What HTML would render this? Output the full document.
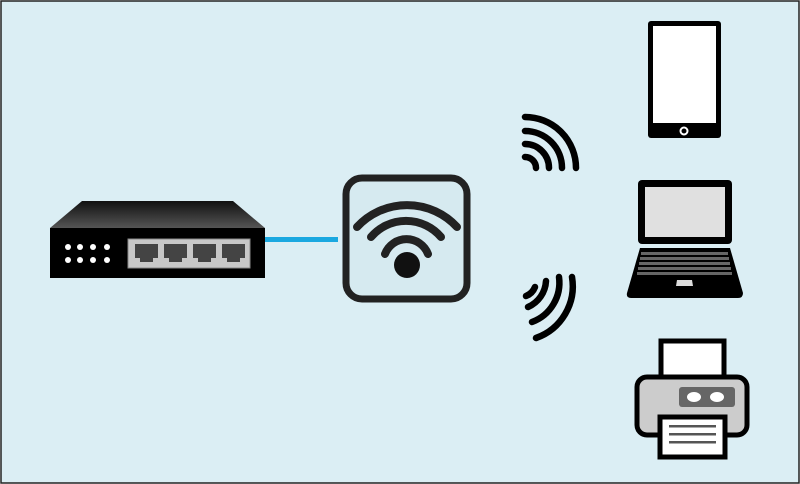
<!DOCTYPE html>
<html><head><style>
html,body{margin:0;padding:0;background:#fff;}
svg{display:block;}
</style></head><body>
<svg width="800" height="484" viewBox="0 0 800 484" xmlns="http://www.w3.org/2000/svg">
<defs>
<linearGradient id="top" x1="0" y1="0" x2="0" y2="1">
<stop offset="0" stop-color="#111"/><stop offset="1" stop-color="#555"/>
</linearGradient>
</defs>
<rect x="1" y="1" width="798" height="482" fill="#dbeef4" stroke="#222" stroke-width="1.5"/>
<!-- switch -->
<polygon points="82,201 233,201 265,228 50,228" fill="url(#top)"/>
<rect x="50" y="228" width="215" height="50" fill="#000"/>
<g fill="#fff">
<circle cx="68" cy="247" r="3"/><circle cx="80" cy="247" r="3"/><circle cx="93" cy="247" r="3"/><circle cx="107" cy="247" r="3"/>
<circle cx="68" cy="260" r="3"/><circle cx="80" cy="260" r="3"/><circle cx="93" cy="260" r="3"/><circle cx="107" cy="260" r="3"/>
</g>
<rect x="128" y="239" width="122" height="29" fill="#c8c8c8" stroke="#888"/>
<g fill="#444">
<path d="M135,244h23v14h-5v4h-13v-4h-5z"/>
<path d="M164,244h23v14h-5v4h-13v-4h-5z"/>
<path d="M193,244h23v14h-5v4h-13v-4h-5z"/>
<path d="M222,244h23v14h-5v4h-13v-4h-5z"/>
</g>
<!-- cable -->
<rect x="265" y="237" width="73" height="5" fill="#1aa8e0"/>
<!-- router -->
<rect x="346" y="178" width="121" height="121" rx="16" fill="#d6eaf0" stroke="#222" stroke-width="7"/>
<g fill="none" stroke="#222" stroke-width="8" stroke-linecap="round">
<path d="M357,227 A68,68 0 0 1 457,227"/>
<path d="M371,237 A46,46 0 0 1 441,237"/>
<path d="M385,254 A23,23 0 0 1 428,254"/>
</g>
<circle cx="407" cy="265" r="13" fill="#111"/>
<!-- wifi upper -->
<g fill="none" stroke="#000" stroke-width="6.5" stroke-linecap="round">
<path d="M525,117 A51,51 0 0 1 576,168"/>
<path d="M525,131 A37,37 0 0 1 562,168"/>
<path d="M525,144 A24,24 0 0 1 549,168"/>
<path d="M525,157 A11,11 0 0 1 536,168"/>
</g>
<!-- wifi lower -->
<g fill="none" stroke="#000" stroke-width="6.5" stroke-linecap="round">
<path d="M572,277 A55,55 0 0 1 536,338"/>
<path d="M559,277 A42,42 0 0 1 532,322"/>
<path d="M546,281 A30,30 0 0 1 528,307"/>
<path d="M535,287 A16,16 0 0 1 526,296"/>
</g>
<!-- phone -->
<rect x="648" y="21" width="73" height="117" rx="3" fill="#000"/>
<rect x="653" y="26" width="63" height="97" fill="#fff"/>
<circle cx="684" cy="131" r="3.5" fill="none" stroke="#fff" stroke-width="2"/>
<!-- laptop -->
<rect x="638" y="180" width="94" height="64" rx="4" fill="#000"/>
<rect x="645" y="187" width="80" height="50" fill="#e0e0e0"/>
<path d="M640,248 H730 L743,293 Q743,298 738,298 H631 Q626,298 627,293 Z" fill="#000"/>
<g fill="#666">
<rect x="641" y="252" width="87" height="3"/>
<rect x="640" y="257" width="89" height="3"/>
<rect x="639" y="262" width="91" height="3"/>
<rect x="638" y="267" width="93" height="3"/>
<rect x="637" y="272" width="95" height="3"/>
</g>
<path d="M677,280h15l1,6h-17z" fill="#ddd"/>
<!-- printer -->
<rect x="661" y="341" width="63" height="40" fill="#fff" stroke="#000" stroke-width="5"/>
<rect x="637" y="377" width="110" height="58" rx="10" fill="#ccc" stroke="#000" stroke-width="5"/>
<rect x="679" y="387" width="56" height="20" rx="3" fill="#666"/>
<ellipse cx="694" cy="397" rx="7" ry="5" fill="#fff"/>
<ellipse cx="717" cy="397" rx="7" ry="5" fill="#fff"/>
<rect x="660" y="417" width="65" height="40" fill="#fff" stroke="#000" stroke-width="5"/>
<g fill="#555">
<rect x="669" y="425" width="47" height="2.5"/>
<rect x="669" y="433" width="47" height="2.5"/>
<rect x="669" y="441" width="47" height="2.5"/>
</g>
</svg>
</body></html>
